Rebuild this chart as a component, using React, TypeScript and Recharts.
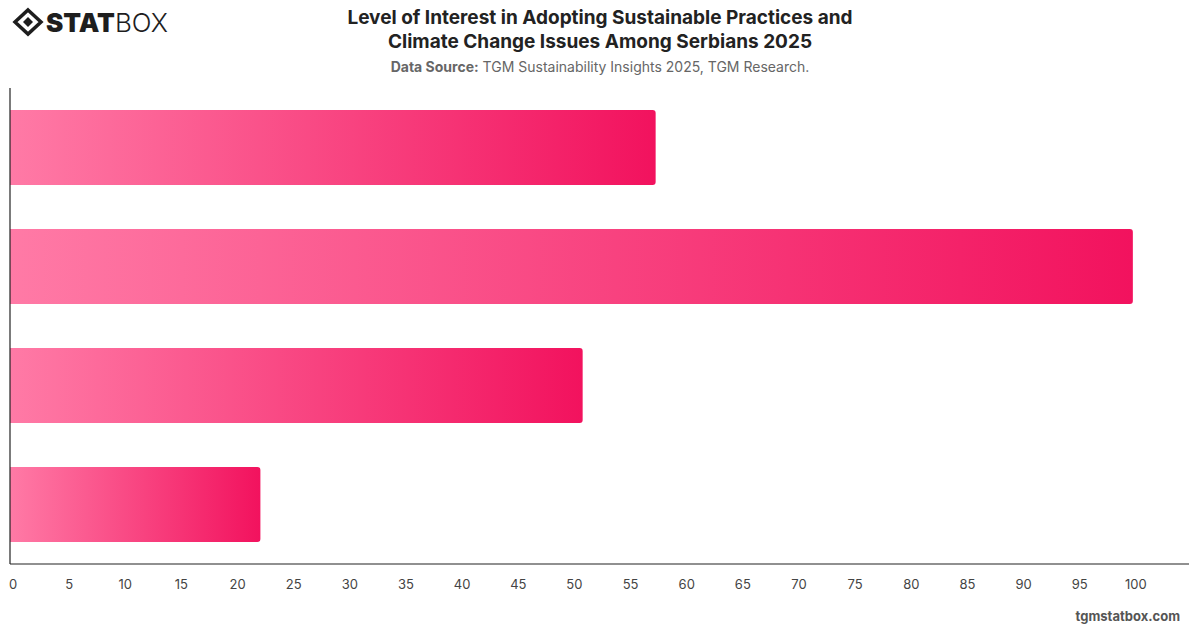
import { Bar, BarChart, ReferenceLine, XAxis, YAxis } from 'recharts';

const categories = ['Very interested', 'Somewhat interested', 'Slightly interested', 'Not interested'];
const interest = [57.5, 100, 51, 22.3];
const xTicks = [0, 5, 10, 15, 20, 25, 30, 35, 40, 45, 50, 55, 60, 65, 70, 75, 80, 85, 90, 95, 100];

const rows = categories.map((name, i) => ({ name, value: interest[i] }));

const FONT = "Inter, 'Noto Sans', 'DejaVu Sans', sans-serif";
const AXIS_STROKE = '#222';

function Logo() {
  return (
    <svg width={180} height={44} style={{ position: 'absolute', left: 12, top: 2 }}>
      <g transform="translate(16,20)">
        <path d="M0,-12 L13,0 L0,12 L-13,0 Z" fill="none" stroke="#1e1e1e" strokeWidth={3.5} />
        <path d="M0,-5 L5,0 L0,5 L-5,0 Z" fill="#1e1e1e" />
      </g>
      <text x={34} y={30} fontFamily={FONT} fontSize={26} fill="#1e1e1e">
        <tspan fontWeight={900}>STAT</tspan>
        <tspan fontWeight={300}>BOX</tspan>
      </text>
    </svg>
  );
}

export default function App() {
  return (
    <div style={{ position: 'absolute', left: 0, top: 0, width: 1200, height: 628, background: '#fff', fontFamily: FONT }}>
      <Logo />
      <div style={{ position: 'absolute', left: 0, width: 1200, top: 6, textAlign: 'center', fontSize: 19, fontWeight: 700, color: '#222', lineHeight: '24px' }}>
        Level of Interest in Adopting Sustainable Practices and
        <br />
        Climate Change Issues Among Serbians 2025
      </div>
      <div style={{ position: 'absolute', left: 0, width: 1200, top: 58, textAlign: 'center', fontSize: 14, color: '#666' }}>
        <b>Data Source:</b> TGM Sustainability Insights 2025, TGM Research.
      </div>
      <div style={{ position: 'absolute', left: 0, top: 0 }}>
        <BarChart
          width={1200}
          height={628}
          data={rows}
          layout="vertical"
          margin={{ top: 88, right: 11, bottom: 0, left: 10 }}
          barCategoryGap={22}
        >
          <defs>
            <linearGradient id="barFill" x1="0" y1="0" x2="1" y2="0">
              <stop offset="0%" stopColor="#ff7aa6" />
              <stop offset="100%" stopColor="#f2125e" />
            </linearGradient>
          </defs>
          <XAxis
            type="number"
            domain={[0, 105]}
            ticks={xTicks}
            interval={0}
            tickLine={false}
            tickSize={6}
            tickMargin={10}
            axisLine={{ stroke: AXIS_STROKE, strokeWidth: 1.2 }}
            tick={{ fill: '#444', fontSize: 13, fontFamily: FONT, dx: 3 }}
            height={64}
          />
          <YAxis type="category" dataKey="name" hide />
          <Bar dataKey="value" fill="url(#barFill)" radius={[0, 3, 3, 0]} barSize={75} isAnimationActive={false} />
          <ReferenceLine x={0} stroke={AXIS_STROKE} strokeWidth={1.2} />
        </BarChart>
      </div>
      <div style={{ position: 'absolute', right: 20, top: 608, fontSize: 13, fontWeight: 700, color: '#555' }}>
        tgmstatbox.com
      </div>
    </div>
  );
}
